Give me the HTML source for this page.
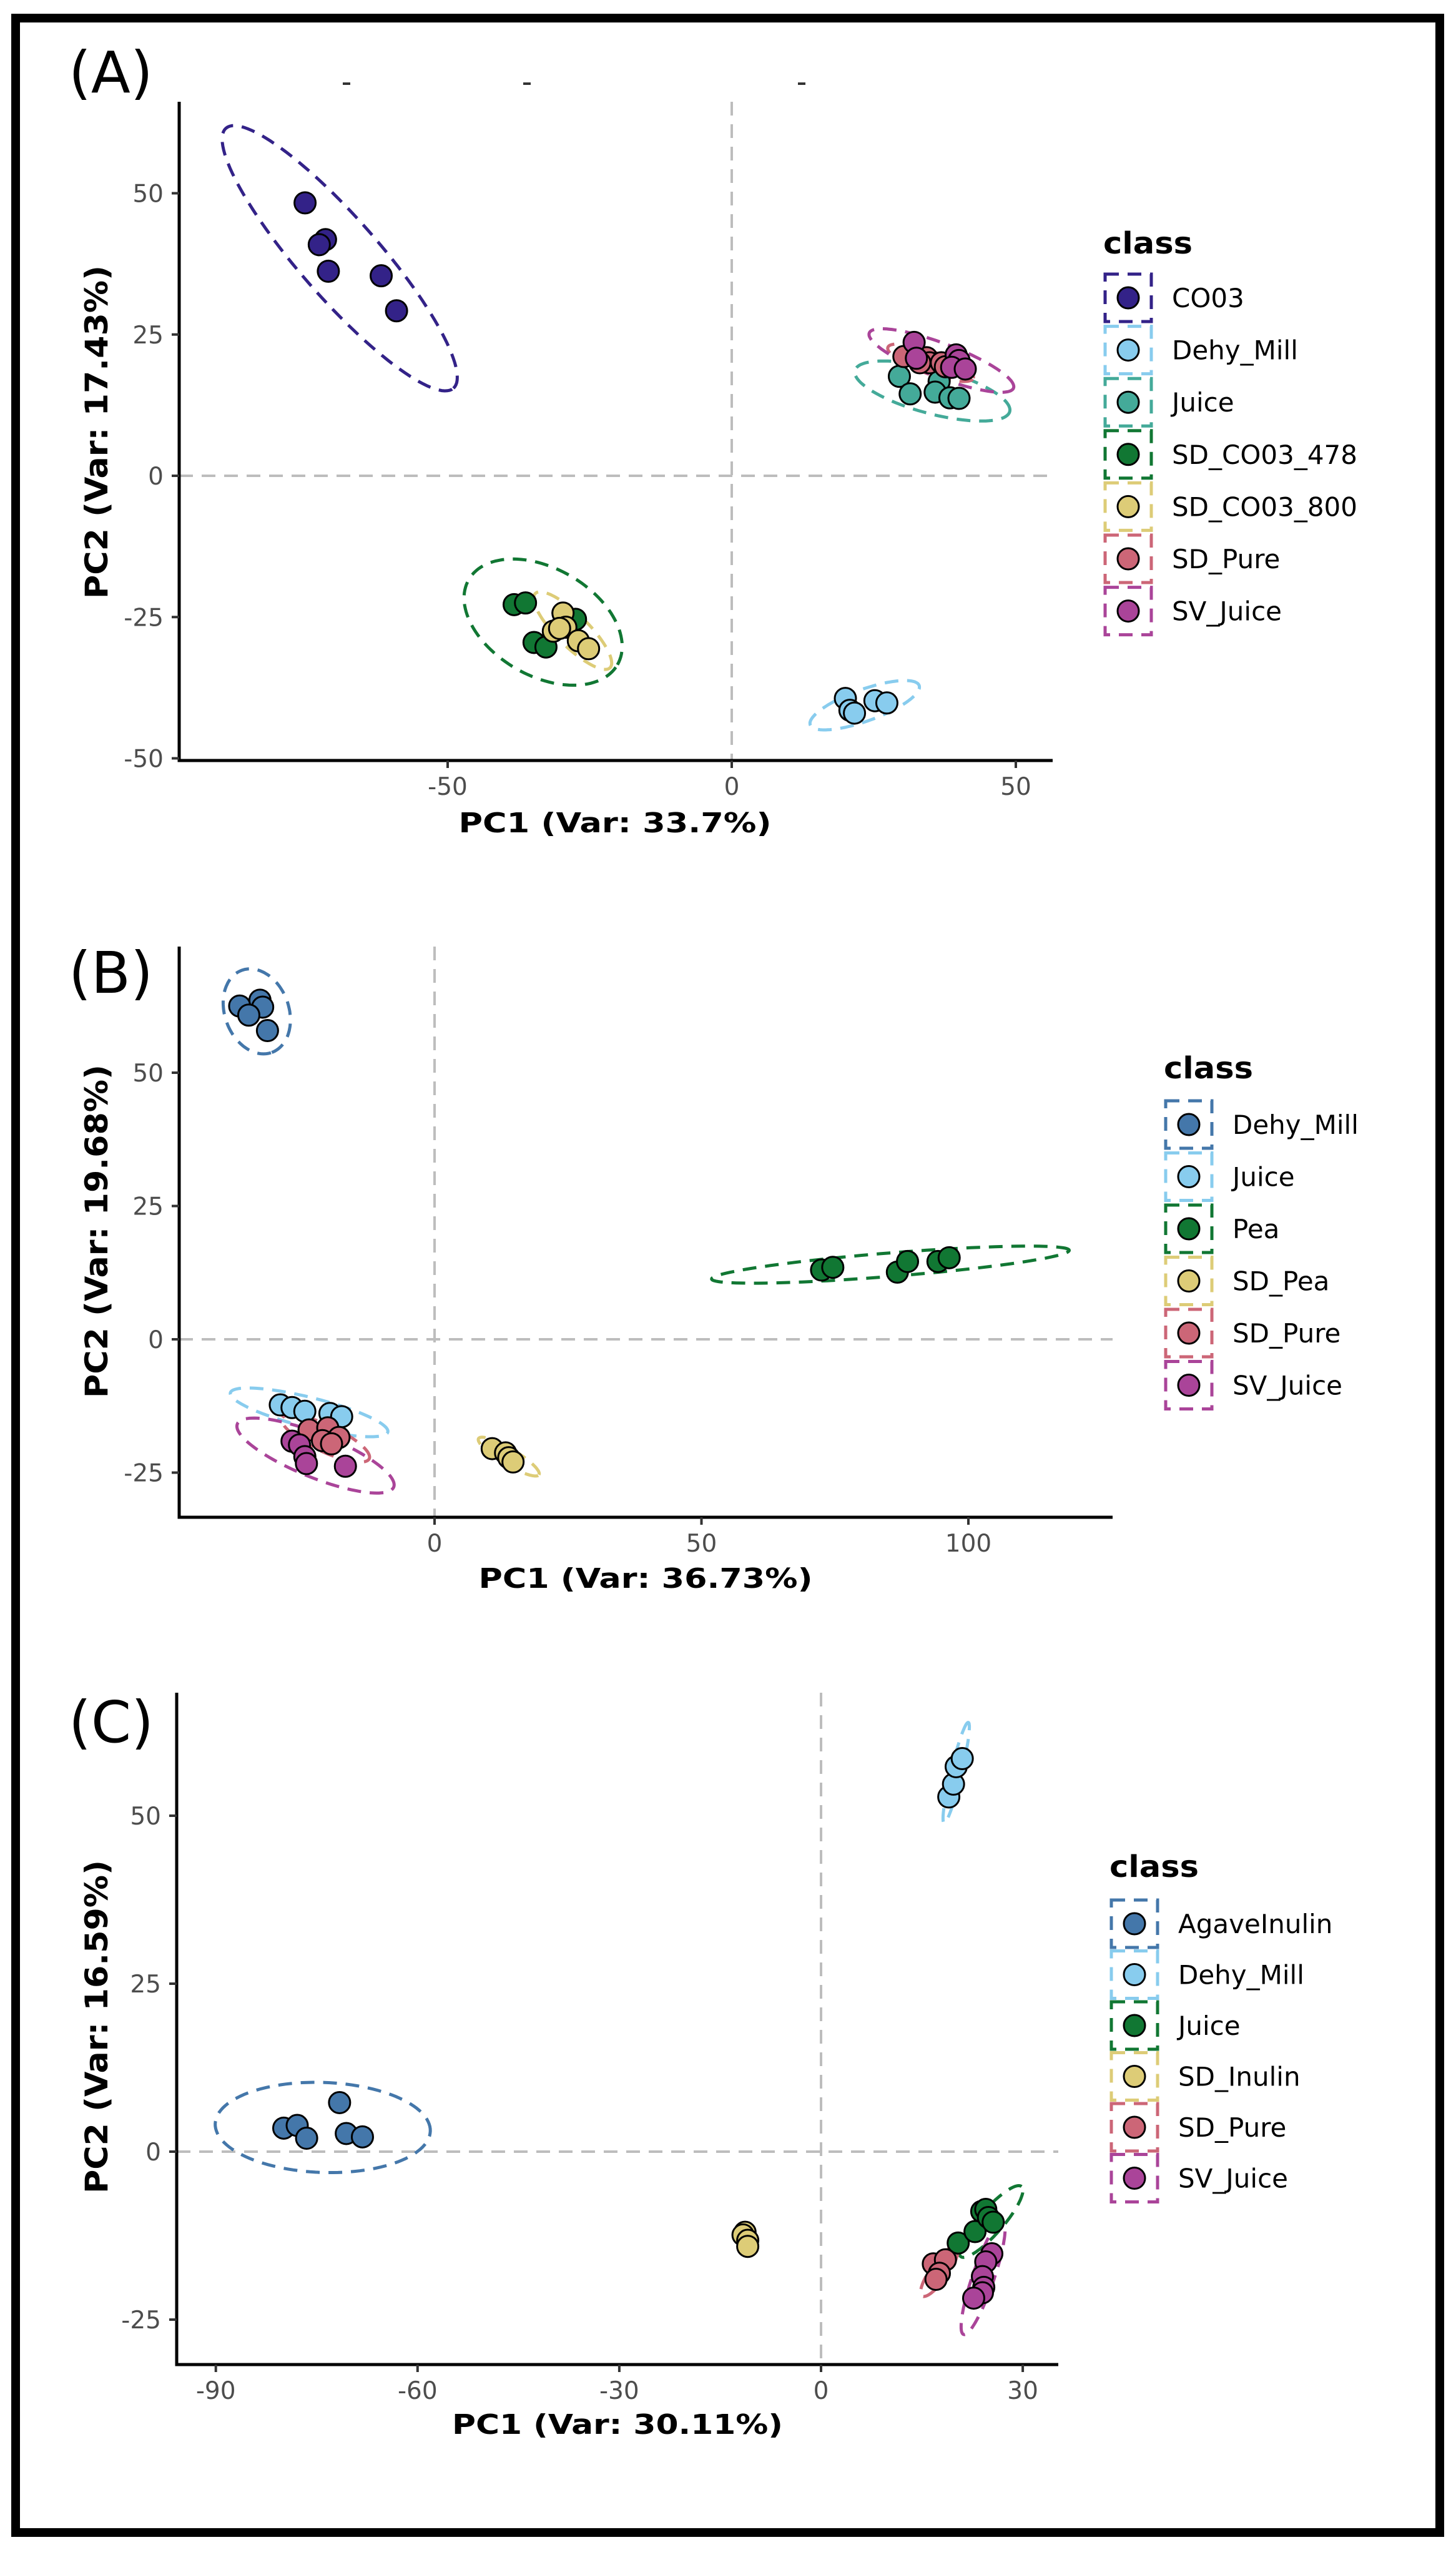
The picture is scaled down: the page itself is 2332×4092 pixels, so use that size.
<!DOCTYPE html>
<html><head><meta charset="utf-8"><style>
html,body{margin:0;padding:0;background:#fff;}
svg{display:block;}
text{font-family:"DejaVu Sans","Liberation Sans",sans-serif;}
</style></head><body>
<svg id="fig" width="2332" height="4092" viewBox="0 0 2332 4092" xmlns="http://www.w3.org/2000/svg">
<rect x="0" y="0" width="2332" height="4092" fill="#fff"/>
<rect x="25" y="29" width="2281" height="4027" fill="none" stroke="#000" stroke-width="14"/>
<g id="root"></g>
</svg>
<script>
// ---------- Panel A data ----------
const aClasses = ["CO03","Dehy_Mill","Juice","SD_CO03_478","SD_CO03_800","SD_Pure","SV_Juice"];
const aColors = ["#332288","#88CCEE","#44AA99","#117733","#DDCC77","#CC6677","#AA4499"];
const aCO03 = [[-75.1,48.3],[-71.5,41.8],[-72.6,40.9],[-71.0,36.2],[-61.7,35.4],[-59.0,29.2]];
const aDehy = [[20.0,-39.4],[25.2,-39.8],[27.3,-40.2],[20.8,-41.5],[21.6,-42.0]];
const aJuice = [[29.5,17.6],[31.4,14.5],[36.5,16.7],[35.8,14.8],[38.4,13.8],[40.0,13.7]];
const aSD478 = [[-38.3,-22.8],[-36.3,-22.5],[-29.7,-24.3],[-27.5,-25.4],[-34.8,-29.5],[-32.7,-30.3]];
const aSD800 = [[-29.7,-24.3],[-29.2,-26.8],[-31.4,-27.5],[-30.3,-27.0],[-27.0,-29.2],[-25.2,-30.6]];
const aSDPure = [[30.3,21.1],[34.3,20.9],[34.8,20.0],[33.1,20.0],[36.9,20.0],[37.6,19.3]];
const aSVJuice = [[32.1,23.6],[32.5,20.8],[39.5,21.4],[40.0,20.4],[38.7,19.2],[41.1,18.9]];
// ellipses: [cx, cy, semi-major, semi-minor, angle deg]
const aEllipses = [[-69.0,38.5,30.5,7.0,-49],[23.4,-40.6,10.2,2.8,20],[35.3,15.0,14.1,4.0,-15],[-33.2,-25.9,15.1,9.5,-30],[-28.0,-27.4,9.3,2.8,-45],[35.0,20.0,8.0,2.0,-20],[36.9,20.4,13.6,3.0,-21]];
const aXTicks = [-50,0,50];
const aYTicks = [50,25,0,-25,-50];

// ---------- Panel B data ----------
const bClasses = ["Dehy_Mill","Juice","Pea","SD_Pea","SD_Pure","SV_Juice"];
const bColors = ["#4477AA","#88CCEE","#117733","#DDCC77","#CC6677","#AA4499"];
const bDehy = [[-36.5,62.5],[-32.7,63.6],[-32.2,62.3],[-34.8,60.8],[-31.3,57.9]];
const bJuice = [[-28.9,-12.3],[-26.7,-12.8],[-24.3,-13.5],[-19.6,-13.9],[-17.4,-14.5]];
const bPea = [[72.5,13.0],[74.6,13.5],[86.7,12.6],[88.6,14.6],[94.3,14.6],[96.4,15.3]];
const bSDPea = [[10.8,-20.5],[13.3,-21.3],[13.9,-22.2],[14.7,-23.0]];
const bSDPure = [[-23.5,-17.0],[-20.0,-16.6],[-21.0,-19.0],[-17.9,-18.4],[-19.3,-19.6]];
const bSVJuice = [[-26.7,-19.1],[-25.3,-19.8],[-24.3,-22.0],[-24.0,-23.3],[-16.7,-23.8]];
const bEllipses = [[-33.3,61.5,8.2,6.0,-70],[-23.5,-13.7,15.2,2.8,-14],[85.4,14.0,33.6,2.2,4.6],[13.9,-22.0,6.6,1.5,-31],[-20.4,-18.6,9.0,2.5,-25],[-22.3,-21.8,15.8,4.1,-22]];
const bXTicks = [0,50,100];
const bYTicks = [50,25,0,-25];

// ---------- Panel C data ----------
const cClasses = ["AgaveInulin","Dehy_Mill","Juice","SD_Inulin","SD_Pure","SV_Juice"];
const cColors = ["#4477AA","#88CCEE","#117733","#DDCC77","#CC6677","#AA4499"];
const cAgave = [[-79.9,3.5],[-77.9,3.9],[-76.5,2.0],[-71.6,7.3],[-70.6,2.7],[-68.2,2.2]];
const cDehy = [[19.0,52.8],[19.7,54.7],[20.1,57.3],[21.0,58.5]];
const cJuice = [[20.4,-13.6],[22.9,-11.9],[23.9,-8.9],[24.5,-8.6],[24.9,-9.8],[25.6,-10.5]];
const cSDInulin = [[-11.3,-12.0],[-11.6,-12.4],[-10.9,-13.2],[-10.9,-14.1]];
const cSDPure = [[16.7,-16.7],[18.5,-16.1],[17.6,-18.1],[17.1,-19.0]];
const cSVJuice = [[25.4,-15.2],[24.5,-16.4],[24.0,-18.6],[24.2,-20.2],[24.0,-21.0],[22.7,-21.8]];
const cEllipses = [[-74.1,3.6,16.0,6.7,-2],[20.1,56.4,7.7,0.8,76.5],[25.3,-10.4,6.9,1.8,49],[-11.1,-13.0,1.6,0.9,80],[17.6,-17.8,4.5,1.3,55],[24.1,-18.8,8.9,1.6,71]];
const cXTicks = [-90,-60,-30,0,30];
const cYTicks = [50,25,0,-25];

const NS = "http://www.w3.org/2000/svg";
const root = document.getElementById('root');
function mk(tag, attrs, parent, txt){
  const e = document.createElementNS(NS, tag);
  for (const k in attrs) e.setAttribute(k, attrs[k]);
  if (txt !== undefined) e.textContent = txt;
  (parent || root).appendChild(e);
  return e;
}

function drawPanel(P){
  const g = mk('g', {});
  
  
  const X = u => P.x0 + P.kx * u;
  const Y = v => P.y0 - P.ky * v;
  const vl = mk('line', {x1:X(0), x2:X(0), y1:P.top, y2:P.bottom, stroke:'#bdbdbd', 'stroke-width':4, 'stroke-dasharray':'22 14'}, g);
  
  
  const hl = mk('line', {x1:P.left, x2:P.right, y1:Y(0), y2:Y(0), stroke:'#bdbdbd', 'stroke-width':4, 'stroke-dasharray':'22 14'}, g);
  
  
  P.ellipses.forEach((E, i) => {
    const th = E[4] * Math.PI / 180;
    let d = '';
    for (let k = 0; k <= 120; k++) {
      const t = k / 120 * 2 * Math.PI;
      const ex = E[0] + E[2] * Math.cos(t) * Math.cos(th) - E[3] * Math.sin(t) * Math.sin(th);
      const ey = E[1] + E[2] * Math.cos(t) * Math.sin(th) + E[3] * Math.sin(t) * Math.cos(th);
      d += (k ? 'L' : 'M') + X(ex).toFixed(1) + ' ' + Y(ey).toFixed(1);
    }
    const p = mk('path', {d:d + 'Z', fill:'none', stroke:P.colors[i], 'stroke-width':5, 'stroke-dasharray':'22 14'}, g);
    
    
  });
  P.series.forEach((S, i) => {
    S.forEach(pt => {
      const c = mk('circle', {cx:X(pt[0]), cy:Y(pt[1]), r:17, fill:P.colors[i], stroke:'#000', 'stroke-width':3}, g);
      
      
    });
  });
  const ax = mk('line', {x1:P.left, x2:P.right, y1:P.bottom, y2:P.bottom, stroke:'#000', 'stroke-width':5}, g);
  
  
  const ay = mk('line', {x1:P.left, x2:P.left, y1:P.top, y2:P.bottom + 2.5, stroke:'#000', 'stroke-width':5}, g);
  
  
  P.xticks.forEach(t => {
    mk('line', {x1:X(t), x2:X(t), y1:P.bottom, y2:P.bottom + 12, stroke:'#333', 'stroke-width':4}, g);
    const tl = mk('text', {x:X(t), y:P.bottom + 55, 'font-size':39, fill:'#4d4d4d', 'text-anchor':'middle'}, g, String(t));
    
    
  });
  P.yticks.forEach(t => {
    mk('line', {x1:P.left - 12, x2:P.left, y1:Y(t), y2:Y(t), stroke:'#333', 'stroke-width':4}, g);
    const tl = mk('text', {x:P.left - 25, y:Y(t) + 14, 'font-size':39, fill:'#4d4d4d', 'text-anchor':'end'}, g, String(t));
    
    
  });
  const xt = mk('text', {x:P.xtx, y:P.xty, 'font-size':44, 'font-weight':'bold', 'text-anchor':'middle', textLength:P.xtl, lengthAdjust:'spacingAndGlyphs'}, g, P.xtitle);
  
  
  const yt = mk('text', {x:0, y:0, 'font-size':50, 'font-weight':'bold', 'text-anchor':'middle', textLength:534, lengthAdjust:'spacingAndGlyphs', transform:'translate(172,' + P.yty + ') rotate(-90)'}, g, P.ytitle);
  
  
  const pl = mk('text', {x:110, y:P.labelY, 'font-size':92, 'font-family':'Liberation Sans, sans-serif'}, g, P.label);
  
  
  const lg = mk('g', {}, g);
  
  
  const lt = mk('text', {x:P.lgx, y:P.lgTitleY, 'font-size':48, 'font-weight':'bold', textLength:143, lengthAdjust:'spacingAndGlyphs'}, lg, 'class');
  
  
  P.classes.forEach((cl, i) => {
    const cy = P.lgY0 + i * P.lgStep;
    const e = mk('g', {}, lg);
    
    
    mk('rect', {x:P.lgx + 3, y:cy - 38, width:74, height:76, fill:'none', stroke:P.colors[i], 'stroke-width':5, 'stroke-dasharray':'22 14'}, e);
    mk('circle', {cx:P.lgx + 40, cy:cy, r:17, fill:P.colors[i], stroke:'#000', 'stroke-width':3}, e);
    mk('text', {x:P.lgx + 110, y:cy + 15, 'font-size':42, fill:'#000'}, e, cl);
  });
}

drawPanel({name:'panel-a', label:'(A)', labelY:148,
  classes:aClasses, colors:aColors, series:[aCO03,aDehy,aJuice,aSD478,aSD800,aSDPure,aSVJuice], ellipses:aEllipses,
  xticks:aXTicks, yticks:aYTicks,
  x0:1172, kx:9.1, y0:762, ky:9.05, left:287, right:1686, top:163, bottom:1218,
  xtitle:'PC1 (Var: 33.7%)', xtx:985, xty:1333, xtl:501, ytitle:'PC2 (Var: 17.43%)', yty:692,
  lgx:1767, lgTitleY:406, lgY0:477, lgStep:83.6});
drawPanel({name:'panel-b', label:'(B)', labelY:1590,
  classes:bClasses, colors:bColors, series:[bDehy,bJuice,bPea,bSDPea,bSDPure,bSVJuice], ellipses:bEllipses,
  xticks:bXTicks, yticks:bYTicks,
  x0:696, kx:8.55, y0:2145, ky:8.54, left:287, right:1782, top:1516, bottom:2430,
  xtitle:'PC1 (Var: 36.73%)', xtx:1034, xty:2543, xtl:535, ytitle:'PC2 (Var: 19.68%)', yty:1972,
  lgx:1864, lgTitleY:1727, lgY0:1801, lgStep:83.5});
drawPanel({name:'panel-c', label:'(C)', labelY:2790,
  classes:cClasses, colors:cColors, series:[cAgave,cDehy,cJuice,cSDInulin,cSDPure,cSVJuice], ellipses:cEllipses,
  xticks:cXTicks, yticks:cYTicks,
  x0:1315, kx:10.77, y0:3446, ky:10.76, left:283, right:1695, top:2711, bottom:3787,
  xtitle:'PC1 (Var: 30.11%)', xtx:989, xty:3898, xtl:530, ytitle:'PC2 (Var: 16.59%)', yty:3246,
  lgx:1777, lgTitleY:3006, lgY0:3081, lgStep:81.5});

[555, 844, 1284].forEach(x => {
  const m = mk('rect', {x:x - 6, y:132, width:12, height:4, fill:'#333'});
  
  
});
</script>
</body></html>
